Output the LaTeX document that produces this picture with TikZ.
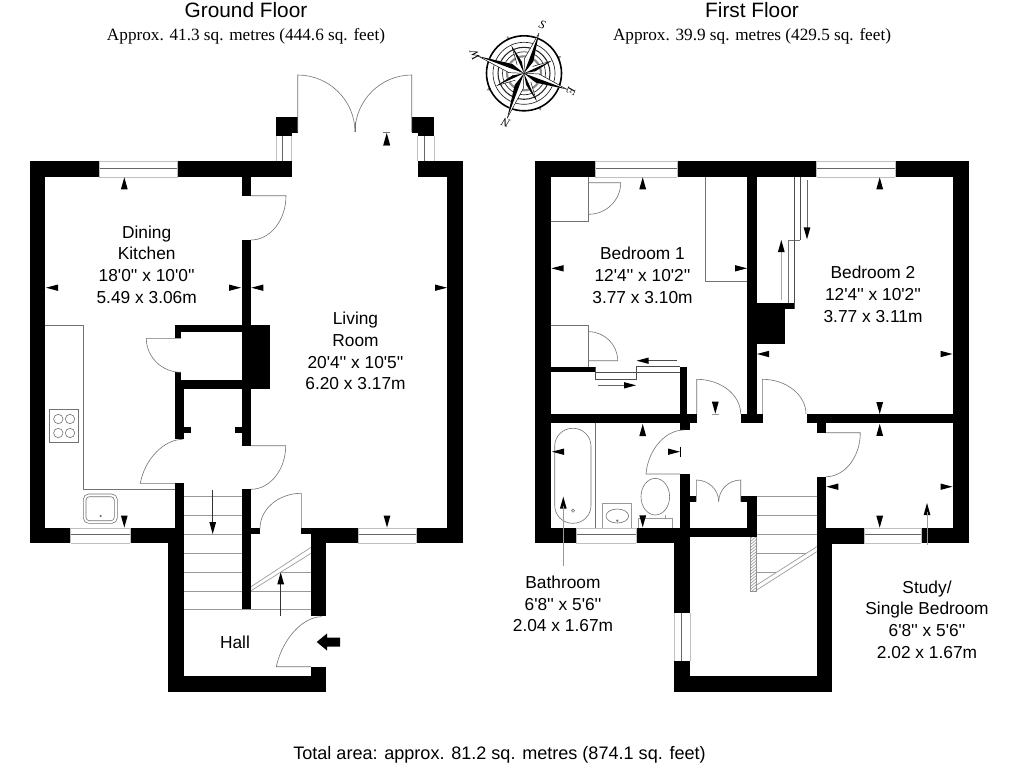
\documentclass[tikz,border=0pt]{standalone}
\usepackage{fontspec}
\setmainfont{Liberation Sans}
\newfontfamily\plainsans{Liberation Sans}
\newfontfamily\serifmark{Liberation Serif}
\newcommand{\wl}[4]{\fill[black] (#1,#2) rectangle (#3,#4);}
\newcommand{\aU}[2]{\fill[black] (#1,#2) -- ++(-3.4,12) -- ++(6.8,0) -- cycle;}
\newcommand{\aD}[2]{\fill[black] (#1,#2) -- ++(-3.4,-12) -- ++(6.8,0) -- cycle;}
\newcommand{\aL}[2]{\fill[black] (#1,#2) -- ++(12,-3.2) -- ++(0,6.4) -- cycle;}
\newcommand{\aR}[2]{\fill[black] (#1,#2) -- ++(-12,-3.2) -- ++(0,6.4) -- cycle;}
\newcommand{\winH}[4]{\draw[winedge] (#1,#3) -- (#2,#3) (#1,#4) -- (#2,#4); \draw[winmid] (#1,{(#3+#4)/2-1}) -- (#2,{(#3+#4)/2-1});\draw[winedge] (#1,#3) -- (#1,#4) (#2,#3) -- (#2,#4);}
\newcommand{\winV}[4]{\draw[winedge] (#1,#3) -- (#1,#4) (#2,#3) -- (#2,#4); \draw[winmid] ({#1+(#2-#1)*0.42},#3) -- ({#1+(#2-#1)*0.42},#4);}
% door: hinge, leaf end, arc end on wall
\newcommand{\door}[6]{\draw[thinl] (#1,#2) -- (#3,#4) .. controls ({#3+0.55*(#5-#1)},{#4+0.55*(#6-#2)}) and ({#5+0.55*(#3-#1)},{#6+0.55*(#4-#2)}) .. (#5,#6);}
\tikzset{
  thinl/.style={draw=black!55,line width=0.45pt},
  darkl/.style={draw=black!70,line width=0.5pt},
  lightl/.style={draw=black!40,line width=0.5pt},
  winedge/.style={draw=black!25,line width=0.55pt},
  winmid/.style={draw=black!60,line width=0.6pt},
  roomlabel/.style={align=center,font=\plainsans\fontsize{13}{16.3}\selectfont,inner sep=0pt},
  titletext/.style={font=\plainsans\fontsize{15.6}{18}\selectfont,inner sep=0pt},
  subtext/.style={font=\serifmark\fontsize{12.9}{15}\selectfont,inner sep=0pt},
  totaltext/.style={font=\plainsans\fontsize{13.55}{15}\selectfont,inner sep=0pt},
  compassletter/.style={font=\serifmark\itshape\fontsize{9}{10}\selectfont,inner sep=0pt}
}
\begin{document}
\begin{tikzpicture}[x=0.75pt,y=-0.75pt]
\useasboundingbox (0,0) rectangle (1024,768);
\fill[white] (0,0) rectangle (1024,768);
% ---------- GROUND FLOOR ----------
% kitchen fittings
\draw[thinl] (45.3,325.3) -- (83.3,325.3) -- (83.3,489.3) -- (175,489.3);
\draw[thinl] (49.3,409.3) rectangle (78.7,442.7);
\foreach \cx/\cy in {58.3/419,70/419,58.3/433,70/433}{\draw[thinl] (\cx,\cy) circle[radius=4.7];}
\draw[thinl,rounded corners=4pt] (83.3,494) rectangle (117.3,523.3);
\draw[thinl,rounded corners=2.5pt] (86,496.7) rectangle (114.3,520.7);
\draw[thinl] (100.7,516) circle[radius=0.8];
% stairs ground
\foreach \yy in {496,515.3,534.3,553.3,572.3,591.3}{\draw[lightl] (184.3,\yy) -- (241.7,\yy);}
\draw[lightl] (184.3,609.3) -- (311,609.3);
\draw[lightl] (251,591.3) -- (311,591.3);
\draw[lightl] (280,572.3) -- (311,572.3);
\fill[white] (251,586.7) -- (311,547.3) -- (311,553.3) -- (251,590.7) -- cycle;
\draw[lightl] (251,586.7) -- (311,547.3) (251,590.7) -- (311,553.3);
% walls ground
\wl{29.5}{161}{45.3}{543.3}
\wl{29.5}{161}{99.3}{177}
\wl{177.7}{161}{291.7}{177}
\wl{275.7}{116.7}{297.7}{133}
\wl{275.7}{133}{291.7}{136}
\wl{411.7}{116.7}{434}{133}
\wl{417.7}{133}{434}{136}
\wl{417.7}{160.5}{462.7}{177}
\wl{446.7}{160.5}{462.7}{543.3}
\wl{29.5}{528.3}{70.7}{543.3}
\wl{130.3}{528.3}{175}{543.3}
\wl{168}{528.3}{184.3}{692.3}
\wl{175}{483.3}{184.3}{528.3}
\wl{168}{676}{326.3}{692.3}
\wl{311}{666.7}{326.3}{692.3}
\wl{311}{528.3}{326.3}{616}
\wl{301.3}{528.3}{358}{534}
\wl{311}{528.3}{358}{543.3}
\wl{416}{528.3}{462.7}{543.3}
\wl{241.7}{177}{251}{195.7}
\wl{241.7}{240}{251}{445.7}
\wl{241.7}{489.3}{251}{609.3}
\wl{251}{528.3}{260}{534}
\wl{241.7}{325.3}{269.7}{389}
\wl{175}{325.3}{241.7}{332}
\wl{175}{332}{181}{338.3}
\wl{175}{372.3}{181}{380}
\wl{175}{380}{241.7}{389}
\wl{175}{389}{184.3}{439}
\wl{184.3}{426.7}{191}{433.3}
\wl{235}{426.7}{241.7}{433.3}
% windows ground
\winH{99.3}{177.7}{161}{177}
\winH{70.7}{130.3}{528.3}{543.3}
\winH{358}{416}{528.3}{543.3}
\winV{276}{291.7}{136}{160.5}
\winV{417.7}{434}{136}{160.5}
% doors ground
\door{297.7}{132}{297.7}{75}{355}{132}
\door{411.7}{132}{411.7}{75}{355}{132}
\draw[thinl] (355,122) -- (355,132);
\door{251}{195.7}{286}{195.7}{251}{240}
\door{181}{338.3}{146.3}{338.3}{181}{372.3}
\door{175}{483.3}{140.3}{483.3}{183}{439.3}
\door{251}{445.7}{285.7}{445.7}{251}{489.3}
\door{301.3}{528.3}{301.3}{493.3}{260}{528.3}
\door{311}{666.7}{276.3}{666.7}{321.7}{616.7}
% arrows ground
\aU{124.3}{177.3}
\aL{46}{287.7}
\aR{241}{287.7}
\aL{251.3}{287.7}
\aR{447}{287.7}
\aD{124.3}{527.5}
\aD{387}{527.5}
\aU{386.7}{133}
\draw[thinl] (383,132.5) -- (390.4,132.5) (383,145) -- (390.4,145);
\draw[black!80,line width=0.5pt] (212.7,490) -- (212.7,525);
\aD{212.7}{534}
\draw[black!80,line width=0.5pt] (280.7,616) -- (280.7,580);
\aU{280.7}{572.3}
\fill[black] (316.7,642) -- (327,633.5) -- (327,637.5) -- (340,637.5) -- (340,646.5) -- (327,646.5) -- (327,650.5) -- cycle;
% labels ground
\node[roomlabel] (dining) at (146.7,264.5) {Dining\\Kitchen\\18'0'' x 10'0''\\5.49 x 3.06m};
\node[roomlabel] (living) at (355.5,351) {Living\\Room\\20'4'' x 10'5''\\6.20 x 3.17m};
\node[roomlabel] (hall) at (235,642) {Hall};
% ---------- FIRST FLOOR ----------
% fittings: wardrobes
\draw[thinl] (588.7,177) -- (588.7,221.3) -- (551,221.3);
\draw[thinl] (551,325) -- (588.7,325) -- (588.7,366.7);
\door{588.7}{182.7}{620.7}{182.7}{588.7}{214.3}
\door{588.7}{360.7}{617.7}{360.7}{588.7}{331.7}
\draw[thinl] (705.7,177) -- (705.7,281.3) -- (747.3,281.3);
\draw[darkl] (595.3,366.7) -- (595.3,379.3) -- (636.7,379.3) -- (636.7,366.7) -- (680.3,366.7);
\draw[darkl] (595.3,372.3) -- (680.3,372.3);
\draw[thinl] (800,240) -- (788.3,240) -- (788.3,303.3);
\draw[darkl] (794.3,177) -- (794.3,309) (800,177) -- (800,240);
% bathroom fittings
\draw[thinl,rounded corners=13.4pt] (554.7,428.3) rectangle (591,523.3);
\draw[thinl] (573,510.7) circle[radius=1.6];
\draw[thinl] (595.7,423.3) -- (595.7,528);
\draw[lightl] (602.3,528) -- (602.3,503.7) -- (631.7,503.7) -- (631.7,528);
\draw[thinl] (617.3,516) ellipse[x radius=11.3,y radius=7];
\draw[thinl] (617.3,520.7) circle[radius=0.9];
\draw[thinl] (655.3,496.7) ellipse[x radius=14.3,y radius=18.3];
\draw[lightl] (638.3,528) -- (638.3,518.3) -- (645,518.3) -- (645,515) (665,515) -- (665,518.3) -- (672.7,518.3) -- (672.7,528) (645,518.3) -- (665,518.3);
% stairs first
\foreach \yy in {496.7,515.3,534.7}{\draw[lightl] (756.7,\yy) -- (816.7,\yy);}
\draw[lightl] (756.7,553.3) -- (806,553.3);
\draw[lightl] (756.7,572.7) -- (776,572.7);
\draw[lightl] (756.7,585) -- (816.7,546.7) (756.7,590) -- (816.7,551.7);
\draw[lightl] (750.7,536.7) rectangle (756.7,591.7);
\begin{scope}
\clip (750.7,536.7) rectangle (756.7,591.7);
\foreach \yy in {536,539,...,600}{\draw[black!50,line width=0.35pt] (750,\yy) -- (758,{\yy-7});}
\end{scope}
% walls first
\wl{535.3}{161}{551}{543.3}
\wl{535.3}{161}{595.3}{177}
\wl{677.3}{161}{816.7}{177}
\wl{895.3}{161}{968.7}{177}
\wl{952.7}{161}{968.7}{543.3}
\wl{535.3}{528}{576}{543.3}
\wl{636}{528}{690}{543.3}
\wl{816.7}{528}{864.3}{543.5}
\wl{921}{528}{968.7}{543.3}
\wl{747.3}{177}{756.5}{414}
\wl{747.3}{303.3}{785}{344.3}
\wl{747.3}{303.3}{794.3}{309.3}
\wl{551}{414}{696.7}{423.3}
\wl{740.7}{414}{763.3}{423.3}
\wl{806.7}{414}{952.7}{423.3}
\wl{551}{366.7}{595.3}{372.3}
\wl{680.3}{366.7}{687}{430}
\wl{680}{423.3}{690}{430}
\wl{680.3}{474}{690}{528}
\wl{690}{496}{696.3}{502}
\wl{740.7}{496}{756.7}{502}
\wl{747.3}{496}{756.7}{536.7}
\wl{690}{528}{756.7}{536.7}
\wl{674.3}{528}{690}{613.3}
\wl{674.3}{660.7}{690}{692.3}
\wl{674.3}{676}{832.3}{692.3}
\wl{816.7}{476.7}{826}{528}
\wl{816.7}{528}{832.3}{692.3}
\wl{816.7}{423.3}{826}{433.3}
% windows first
\winH{595.3}{677.3}{161}{177}
\winH{816.7}{895.3}{161}{177}
\winH{576}{636}{528}{543.3}
\winH{864.3}{921}{528}{543.3}
\winV{674.3}{690}{613.3}{660.7}
% doors first
\door{696.7}{414}{696.7}{379.3}{740.7}{414}
\door{762.3}{414}{762.3}{379.3}{806}{414}
\door{826}{432.7}{860.3}{432.7}{826}{476.7}
\door{680.3}{474}{646}{474}{684}{430}
\door{696.3}{501.7}{696.3}{480}{718.7}{501.7}
\door{740.7}{501.7}{740.7}{480}{718.7}{501.7}
% arrows first
\aU{642.7}{177.3}
\aL{551.5}{268.3}
\aR{747}{268.3}
\aU{879.7}{177.3}
\aL{757}{354}
\aR{952.5}{354}
\aD{879.7}{414}
\aU{879.7}{423.8}
\aL{826.3}{486.7}
\aR{952.5}{486.7}
\aD{879.7}{527.7}
\aD{715.3}{413.7}
\draw[lightl] (711.5,414.3) -- (719,414.3);
\aU{642.7}{424}
\aD{642.7}{527.3}
\aL{552}{451.7}
\aR{680}{451.7}
\draw[black,line width=0.55pt] (680.3,446.7) -- (680.3,457.3);
\aU{563.3}{496.7}
\draw[lightl] (563.3,506) -- (563.3,565.7);
\aU{927}{503}
\draw[lightl] (927,512) -- (927,545);
\draw[black!70,line width=0.5pt] (676.7,360.7) -- (645,360.7);
\aL{636.7}{360.7}
\draw[black!60,line width=0.5pt] (598,385.3) -- (625,385.3);
\aR{636}{385.3}
\draw[black!60,line width=0.5pt] (807,180) -- (807,228);
\aD{807}{239.3}
\draw[black!35,line width=0.5pt] (781.3,300) -- (781.3,250);
\aU{781.3}{240}
% labels first
\node[roomlabel] (bed1) at (642.5,275.5) {Bedroom 1\\12'4'' x 10'2''\\3.77 x 3.10m};
\node[roomlabel] (bed2) at (873,294.5) {Bedroom 2\\12'4'' x 10'2''\\3.77 x 3.11m};
\node[roomlabel] (bath) at (563,604) {Bathroom\\6'8'' x 5'6''\\2.04 x 1.67m};
\node[roomlabel] (study) at (927,619.5) {Study/\\Single Bedroom\\6'8'' x 5'6''\\2.02 x 1.67m};
% titles
\node[titletext] (gft) at (246,10) {Ground Floor};
\node[subtext] (gfs) at (246,36) {Approx. 41.3 sq. metres (444.6 sq. feet)};
\node[titletext] (fft) at (752,10.5) {First Floor};
\node[subtext] (ffs) at (752,36) {Approx. 39.9 sq. metres (429.5 sq. feet)};
\node[totaltext] (total) at (499.5,755) {Total area: approx. 81.2 sq. metres (874.1 sq. feet)};
% compass
\begin{scope}[shift={(524,73.3)}]
\foreach \ang in {-114.5,-24.5,65.5,155.5}{\fill[black!45] (\ang-3:37.5) -- (\ang:41) -- (\ang+3:37.5) -- cycle;}
\draw[black,line width=1.2pt] (0,0) circle[radius=37.5];
\draw[black!85,line width=0.5pt] (0,0) circle[radius=31];
\draw[black!85,line width=0.8pt] (0,0) circle[radius=26];
\draw[black!85,line width=0.5pt] (0,0) circle[radius=21.5];
\draw[black!45,line width=1.6pt] (0,0) circle[radius=17];
\foreach \ang in {-24.5,65.5,155.5,245.5}{
  \fill[white] (0,0) -- (\ang-14:11) -- (\ang:29) -- (\ang+14:11) -- cycle;
  \draw[black,line width=0.35pt] (\ang-14:11) -- (\ang:29) -- (\ang+14:11);
  \fill[black] (0,0) -- (\ang:29) -- (\ang+14:11) -- cycle;
}
\foreach \ang/\len in {-69.5/43,20.5/46,110.5/48,200.5/49}{
  \fill[white] (0,0) -- (\ang-18:15) -- (\ang:\len) -- (\ang+18:15) -- cycle;
  \draw[black,line width=0.35pt] (0,0) -- (\ang-18:15) -- (\ang:\len);
  \fill[black] (0,0) -- (\ang:\len) -- (\ang+18:15) -- cycle;
}
\end{scope}
\node[compassletter,rotate=-20] (cs) at (542.3,25) {S};
\node[compassletter,rotate=160] (cn) at (505.7,122.7) {N};
\node[compassletter,rotate=-110] (ce) at (571,91.7) {E};
\node[compassletter,rotate=110] (cw) at (475,55) {W};
\end{tikzpicture}
\end{document}
